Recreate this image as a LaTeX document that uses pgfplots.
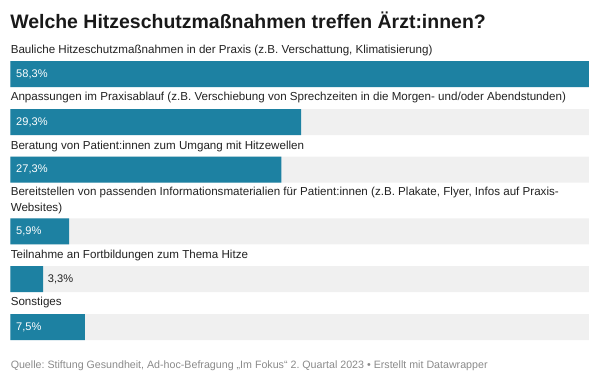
\documentclass[border=0pt]{standalone}
\usepackage{pgfplots}
\pgfplotsset{compat=1.18}
\usepackage{fontspec}
\setmainfont{Liberation Sans}
\frenchspacing
\definecolor{dwblue}{HTML}{1D81A2}
\definecolor{bggray}{HTML}{F0F0F0}
\definecolor{txt}{HTML}{222222}
\definecolor{foot}{HTML}{8A8A8A}
\tikzset{
 lab/.style={anchor=west, inner sep=0pt, text=txt, font=\fontsize{8.7}{10.4}\selectfont},
 val/.style={anchor=west, inner sep=0pt, font=\fontsize{8.3}{10}\selectfont},
}
\begin{document}
\begin{tikzpicture}
\begin{axis}[
 scale only axis, width=450pt, height=286.5pt,
 xmin=-1.058, xmax=59.41, ymin=0, ymax=382, y dir=reverse,
 hide axis, clip=false,
 xbar, bar width=26,
]
\path (rel axis cs:0,0) rectangle (rel axis cs:1,1);
\addplot[fill=bggray, draw=none, bar shift=0pt] coordinates {(58.3,74) (58.3,122) (58.3,169.7) (58.3,231.3) (58.3,279) (58.3,327)};
\addplot[fill=dwblue, draw=none, bar shift=0pt] coordinates {(58.3,74) (29.3,122) (27.3,169.7) (5.9,231.3) (3.3,279) (7.5,327)};
\node[anchor=west, inner sep=0pt, text=black!90, font=\bfseries\fontsize{14.6}{17}\selectfont] at (axis cs:-0.05,20) {Welche Hitzeschutzmaßnahmen treffen Ärzt:innen?};
\node[lab] at (axis cs:0,50) {Bauliche Hitzeschutzmaßnahmen in der Praxis (z.B. Verschattung, Klimatisierung)};
\node[lab] at (axis cs:0,97.7) {Anpassungen im Praxisablauf (z.B. Verschiebung von Sprechzeiten in die Morgen- und/oder Abendstunden)};
\node[lab] at (axis cs:0,146) {Beratung von Patient:innen zum Umgang mit Hitzewellen};
\node[lab] at (axis cs:0,192) {Bereitstellen von passenden Informationsmaterialien für Patient:innen (z.B. Plakate, Flyer, Infos auf Praxis-};
\node[lab] at (axis cs:0,208) {Websites)};
\node[lab] at (axis cs:0,255.7) {Teilnahme an Fortbildungen zum Thema Hitze};
\node[lab] at (axis cs:0,302) {Sonstiges};
\node[val, text=white] at (axis cs:0.55,74) {58,3\%};
\node[val, text=white] at (axis cs:0.55,122) {29,3\%};
\node[val, text=white] at (axis cs:0.55,169.7) {27,3\%};
\node[val, text=white] at (axis cs:0.55,231.3) {5,9\%};
\node[val, text=txt] at (axis cs:3.75,279) {3,3\%};
\node[val, text=white] at (axis cs:0.55,327) {7,5\%};
\node[anchor=west, inner sep=0pt, text=foot, font=\fontsize{8.0}{9.4}\selectfont] at (axis cs:0,366) {Quelle: Stiftung Gesundheit, Ad-hoc-Befragung „Im Fokus“ 2. Quartal 2023 • Erstellt mit Datawrapper};
\end{axis}
\end{tikzpicture}
\end{document}
